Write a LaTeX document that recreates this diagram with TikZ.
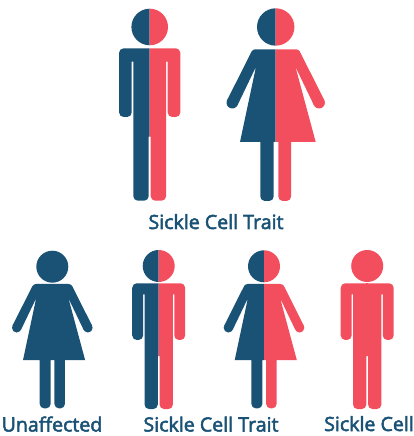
\documentclass[tikz,border=0pt]{standalone}
\usepackage{fontspec}
\newfontfamily\capfont{Open Sans}[FakeBold=2.6]
\definecolor{navyfig}{HTML}{1A5276}
\definecolor{redfig}{HTML}{F24E5E}
\tikzset{
  caption/.style={font=\capfont\fontsize{19.6}{22}\selectfont, text=navyfig, inner sep=0pt, anchor=base},
}
\newcommand{\manhalf}[4]{% colour, cx, top y (px), transform
  \begin{scope}[shift={(#2,436-#3)},#4]
    \fill[#1,rounded corners=4.5pt]
      (0,0) -- (-30.6,0) -- (-30.6,68.7) -- (-18,68.7) [sharp corners] -- (-18,13.4) -- (-16.4,13.4)
      [rounded corners=4.5pt] -- (-16.4,152.4) -- (-1,152.4) [sharp corners] -- (-1,88.4) -- (0,88.4) -- cycle;
  \end{scope}}
\newcommand{\womanhalf}[6]{% colour, cx, top y, transform, skirt x, inner leg x
  \begin{scope}[shift={(#2,436-#3)},#4]
    \fill[#1] (0,0) [rounded corners=2.5pt] -- (-23,0) [sharp corners] -- (-48.6,50.9) -- (-38.2,55.9)
      -- (-19.7,17.4) -- (#5,92.7) -- (-15.4,92.7)
      [rounded corners=4.5pt] -- (-15.4,151.7) -- (#6,151.7) [sharp corners] -- (#6,92.7) -- (0,92.7) -- cycle;
    \fill[#1] (-43.4,53.4) circle[radius=5.8];
  \end{scope}}
\newcommand{\headhalves}[5]{% left colour, right colour, cx, cy (px), r
  \fill[#1] (#3,436-#4+#5) arc[start angle=90,end angle=270,radius=#5] -- cycle;
  \fill[#2] (#3,436-#4+#5) arc[start angle=90,end angle=-90,radius=#5] -- cycle;}
\begin{document}
\begin{tikzpicture}[x=1pt,y=1pt]
\useasboundingbox (0,0) rectangle (414,436);
% top man
\headhalves{navyfig}{redfig}{149.7}{27}{18.3}
\manhalf{navyfig}{149.7}{48.3}{xscale=1,yscale=-1}
\manhalf{redfig}{149.7}{48.3}{xscale=-1,yscale=-1}
% top woman
\headhalves{navyfig}{redfig}{275.7}{27}{18.7}
\womanhalf{navyfig}{275.7}{49.3}{xscale=1,yscale=-1}{-35.7}{-2}
\womanhalf{redfig}{275.7}{49.3}{xscale=-1,yscale=-1}{-40}{-2.6}
% bottom woman, unaffected
\fill[navyfig] (52.3,436-266.7) circle[radius=16];
\womanhalf{navyfig}{52.3}{284}{xscale=.82,yscale=-.82}{-35.7}{-2}
\womanhalf{navyfig}{52.3}{284}{xscale=-.82,yscale=-.82}{-40}{-2.6}
\fill[navyfig] (51.3,436-284) rectangle (53.3,436-360);
% bottom man, trait
\headhalves{navyfig}{redfig}{158.7}{266}{16}
\manhalf{navyfig}{158.7}{283.3}{xscale=.865,yscale=-.825}
\manhalf{redfig}{158.7}{283.3}{xscale=-.865,yscale=-.825}
% bottom woman, trait
\headhalves{navyfig}{redfig}{264}{266.3}{16}
\womanhalf{navyfig}{264}{284}{xscale=.82,yscale=-.82}{-35.7}{-2}
\womanhalf{redfig}{264}{284}{xscale=-.82,yscale=-.82}{-40}{-2.6}
% bottom man, sickle cell
\fill[redfig] (367.2,436-266) circle[radius=16];
\manhalf{redfig}{367.2}{283.3}{xscale=.865,yscale=-.825}
\manhalf{redfig}{367.2}{283.3}{xscale=-.865,yscale=-.825}
\fill[redfig] (366.2,436-283.3) rectangle (368.2,436-356);
% captions
\node[caption] (toptrait) at (216,436-229) {Sickle Cell Trait};
\node[caption] (unaffected) at (52,436-431.5) {Unaffected};
\node[caption] (bottomtrait) at (211,436-431.5) {Sickle Cell Trait};
\node[caption] (sicklecell) at (369,436-431) {Sickle Cell};
\end{tikzpicture}
\end{document}
